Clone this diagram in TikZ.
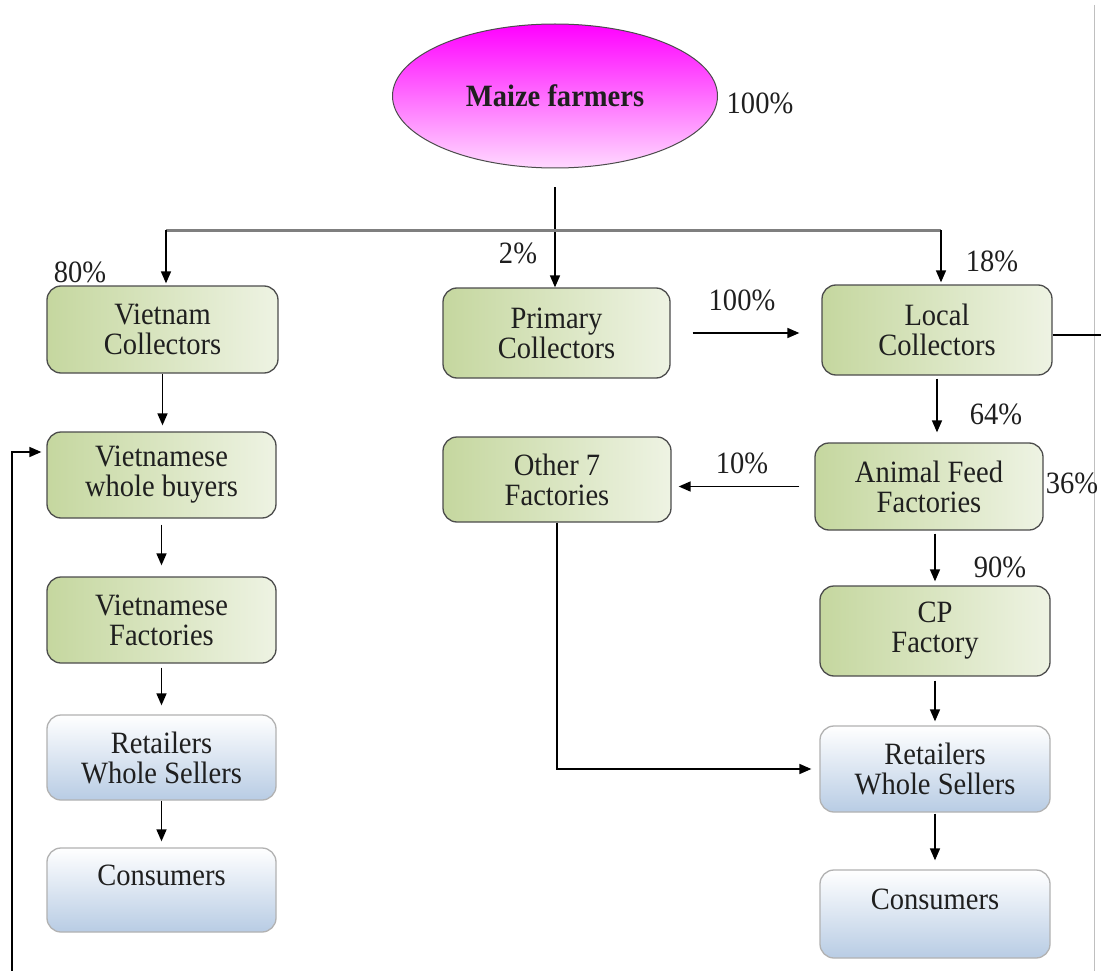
\documentclass[tikz,border=0pt]{standalone}
\usepackage{fontspec}
\setmainfont{Liberation Serif}[FakeStretch=0.92]
\usetikzlibrary{arrows.meta,shapes.geometric}
\definecolor{gL}{HTML}{C5D79F}
\definecolor{gR}{HTML}{EEF3E3}
\definecolor{bB}{HTML}{B8CCE4}
\definecolor{mT}{HTML}{FF00FF}
\definecolor{mB}{HTML}{FFD9FF}
\definecolor{bline}{HTML}{7F7F7F}
\begin{document}
\begin{tikzpicture}[x=1pt,y=-1pt,
 txt/.style={font=\fontsize{31}{30}\selectfont, text=black!88},
 gbox/.style={txt, draw=black!70, line width=1.3pt, rounded corners=14pt, left color=gL, right color=gR, align=center, inner sep=0pt},
 bbox/.style={txt, draw=black!30, line width=1.3pt, rounded corners=14pt, top color=white, bottom color=bB, align=center, inner sep=0pt},
 arr/.style={line width=1.6pt, -{Triangle[length=12pt,width=10pt]}},
 pct/.style={txt, inner sep=0pt},
 plain/.style={line width=1.6pt},
]
\fill[white] (0,0) rectangle (1101,971);
\useasboundingbox (0,0) rectangle (1101,971);
\draw[black!25, line width=1pt] (1094,5) -- (1094,971);

% nodes
\node[ellipse, draw=black!70, line width=1pt, top color=mT, bottom color=mB, minimum width=325pt, minimum height=144pt, inner sep=0pt, txt, font=\fontsize{31}{30}\selectfont\bfseries] (farm) at (555,96) {Maize farmers};

\node[gbox, minimum width=231pt, minimum height=87pt] (VC) at (162.5,329.5) {Vietnam\\Collectors};
\node[gbox, minimum width=227pt, minimum height=90pt] (PC) at (556.5,333) {Primary\\Collectors};
\node[gbox, minimum width=230pt, minimum height=90pt] (LC) at (937,330) {Local\\Collectors};
\node[gbox, minimum width=229pt, minimum height=86pt] (VWB) at (161.5,475) {Vietnamese\\whole buyers};
\node[gbox, minimum width=229pt, minimum height=86pt] (VF) at (161.5,620) {Vietnamese\\Factories};
\node[bbox, minimum width=229pt, minimum height=85pt] (VR) at (161.5,757.5) {Retailers\\Whole Sellers};
\node[bbox, minimum width=229pt, minimum height=84pt] (VCon) at (161.5,890) {Consumers\\\mbox{}};
\node[gbox, minimum width=228pt, minimum height=85pt] (O7) at (557,479.5) {Other 7\\Factories};
\node[gbox, minimum width=228pt, minimum height=87pt] (AF) at (929,486.5) {Animal Feed\\Factories};
\node[gbox, minimum width=230pt, minimum height=90pt] (CP) at (935,631) {CP\\Factory};
\node[bbox, minimum width=230pt, minimum height=86pt] (RR) at (935,769) {Retailers\\Whole Sellers};
\node[bbox, minimum width=230pt, minimum height=88pt] (RCon) at (935,914) {Consumers\\\mbox{}};

% percentage labels
\node[pct] (p100a) at (760,103) {100\%};
\node[pct] (p80) at (80,272) {80\%};
\node[pct] (p2) at (518,253) {2\%};
\node[pct] (p18) at (992,261) {18\%};
\node[pct] (p100b) at (742,300) {100\%};
\node[pct] (p64) at (996,414) {64\%};
\node[pct] (p10) at (742,463) {10\%};
\node[pct] (p36) at (1072,483) {36\%};
\node[pct] (p90) at (1000,567) {90\%};

% coordinates
\coordinate (bl) at (166,230);
\coordinate (br) at (941,230);
\coordinate (rend) at (1101,335);
\coordinate (lbot) at (12,971);
\coordinate (ltop) at (12,452);

% connectors
\draw[arr, shorten <=19pt] (farm.south) -- (farm.south |- PC.north);
\draw[bline, line width=3pt] (bl) -- (br);
\draw[arr, shorten >=2pt] (bl) -- (bl |- VC.north);
\draw[arr, shorten >=2pt] (br) -- (br |- LC.north);
\draw[arr, shorten <=22pt, shorten >=22pt] (PC.east) -- (PC.east -| LC.west);
\draw[plain] (LC.east |- rend) -- (rend);
\draw[arr, shorten <=3pt, shorten >=10pt] (LC.south) -- (LC.south |- AF.north);
\draw[arr, shorten <=15pt, shorten >=7pt] (AF.west) -- (AF.west -| O7.east);
\draw[arr, shorten <=3pt, shorten >=4pt] (CP.north |- AF.south) -- (CP.north);
\draw[arr, shorten <=4pt, shorten >=4pt] (CP.south) -- (RR.north);
\draw[arr, shorten <=1pt, shorten >=9pt] (RR.south) -- (RCon.north);
\draw[arr, shorten >=8pt] (O7.south) |- (RR.west);

\draw[arr, shorten >=6pt] (VC.south) -- (VC.south |- VWB.north);
\draw[arr, shorten <=6pt, shorten >=11pt] (VWB.south) -- (VF.north);
\draw[arr, shorten <=4pt, shorten >=9pt] (VF.south) -- (VR.north);
\draw[arr, shorten >=6pt] (VR.south) -- (VCon.north);
\draw[arr, shorten >=5pt] (lbot) -- (ltop) -- (ltop -| VWB.west);
\end{tikzpicture}
\end{document}
